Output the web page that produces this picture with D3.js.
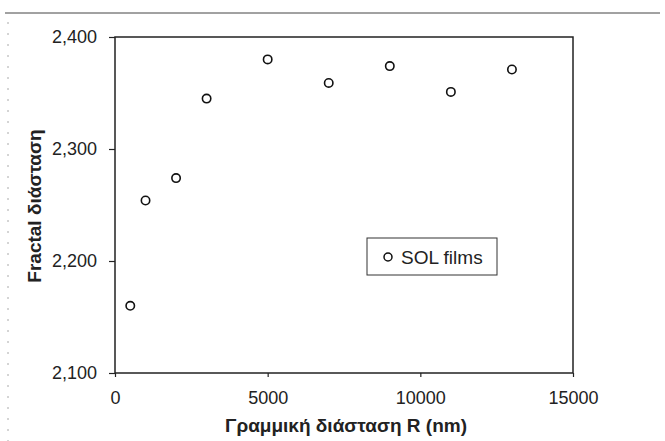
<!DOCTYPE html>
<html>
<head>
<meta charset="utf-8">
<script src="https://cdn.jsdelivr.net/npm/d3@7/dist/d3.min.js"></script>
<style>
  html, body { margin: 0; padding: 0; background: #fff; }
  svg { display: block; }
</style>
</head>
<body>
<svg id="chart" width="665" height="441"></svg>
<script>
// Data
const radiusNm = [500, 1000, 2000, 3000, 5000, 7000, 9000, 11000, 13000];
const fractalDim = [2.160, 2.254, 2.274, 2.345, 2.380, 2.359, 2.374, 2.351, 2.371];
const xTicks = [0, 5000, 10000, 15000];
const yTicks = [2.1, 2.2, 2.3, 2.4];
const seriesName = "SOL films";
const xTitle = "Γραμμική διάσταση R (nm)";
const yTitle = "Fractal διάσταση";

const svg = d3.select("#chart");
const m = { left: 115, right: 573, top: 37, bottom: 373 };
const font = "Arial, 'Liberation Sans', sans-serif";

const x = d3.scaleLinear().domain([0, 15000]).range([m.left, m.right]);
const y = d3.scaleLinear().domain([2.1, 2.4]).range([m.bottom, m.top]);

// scan artefacts: top rule and faint left dashed line
svg.append("line").attr("x1", 5).attr("x2", 660).attr("y1", 13).attr("y2", 13)
  .attr("stroke", "#444").attr("stroke-width", 1);
svg.append("line").attr("x1", 8).attr("x2", 8).attr("y1", 22).attr("y2", 441)
  .attr("stroke", "#aaa").attr("stroke-width", 1).attr("stroke-dasharray", "2,9");

// plot border
svg.append("rect")
  .attr("x", m.left).attr("y", m.top)
  .attr("width", m.right - m.left).attr("height", m.bottom - m.top)
  .attr("fill", "none").attr("stroke", "#222").attr("stroke-width", 1.5);

const fmtY = d => d3.format(".3f")(d).replace(".", ",");

const yAxis = d3.axisLeft(y).tickValues(yTicks).tickSize(6).tickPadding(12).tickFormat(fmtY);
const gy = svg.append("g").attr("transform", `translate(${m.left},0)`).call(yAxis);
gy.select(".domain").remove();
gy.selectAll(".tick line").attr("stroke", "#222").attr("stroke-width", 1.2);
gy.selectAll(".tick text").attr("font-family", font).attr("font-size", 18).attr("fill", "#222");

const xAxis = d3.axisBottom(x).tickValues(xTicks).tickSize(4).tickPadding(14).tickFormat(d3.format("d"));
const gx = svg.append("g").attr("transform", `translate(0,${m.bottom})`).call(xAxis);
gx.select(".domain").remove();
gx.selectAll(".tick line").attr("stroke", "#222").attr("stroke-width", 1.2);
gx.selectAll(".tick text").attr("font-family", font).attr("font-size", 18).attr("fill", "#222");

// points
svg.append("g").selectAll("circle")
  .data(radiusNm.map((r, i) => ({ r, v: fractalDim[i] })))
  .join("circle")
  .attr("cx", d => x(d.r)).attr("cy", d => y(d.v)).attr("r", 4.2)
  .attr("fill", "#fff").attr("stroke", "#111").attr("stroke-width", 1.6);

// axis titles
svg.append("text").attr("x", 346).attr("y", 432).attr("text-anchor", "middle")
  .attr("font-family", font).attr("font-weight", "bold").attr("font-size", 19)
  .attr("fill", "#222").text(xTitle);
svg.append("text").attr("transform", "translate(41,206) rotate(-90)").attr("text-anchor", "middle")
  .attr("font-family", font).attr("font-weight", "bold").attr("font-size", 19)
  .attr("fill", "#222").text(yTitle);

// legend
const lg = svg.append("g");
lg.append("rect").attr("x", 367).attr("y", 238).attr("width", 130).attr("height", 37)
  .attr("fill", "#fff").attr("stroke", "#333").attr("stroke-width", 1);
lg.append("circle").attr("cx", 388).attr("cy", 257).attr("r", 4)
  .attr("fill", "#fff").attr("stroke", "#111").attr("stroke-width", 1.5);
lg.append("text").attr("x", 401).attr("y", 263.5)
  .attr("font-family", font).attr("font-size", 19).attr("fill", "#222").text(seriesName);
</script>
</body>
</html>
